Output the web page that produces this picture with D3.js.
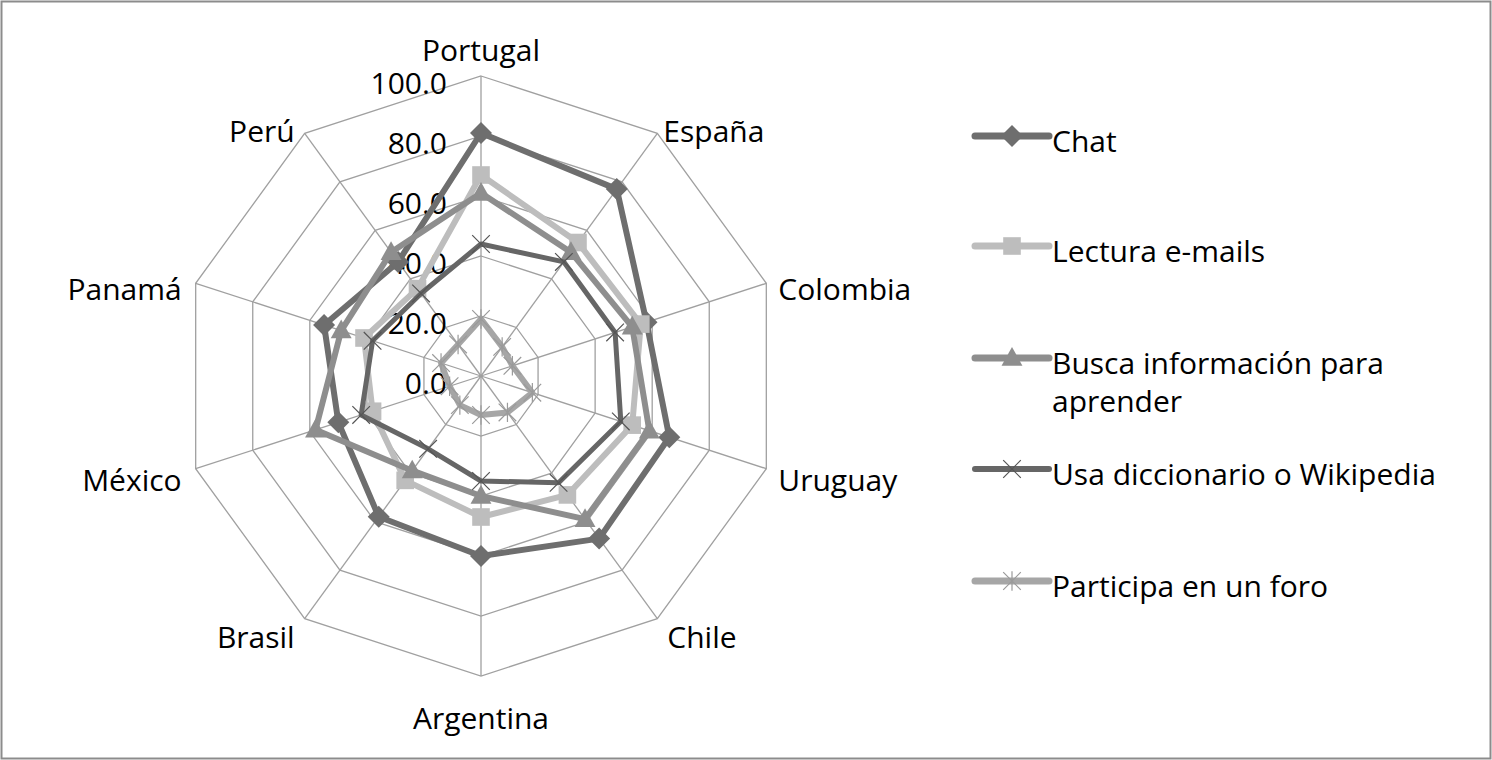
<!DOCTYPE html>
<html><head><meta charset="utf-8">
<script src="https://cdn.jsdelivr.net/npm/d3@7"></script>
<style>
html,body{margin:0;padding:0;background:#fff;}
svg{display:block;}
text{font-family:"Open Sans",Lato,sans-serif;fill:#000;}
</style></head>
<body>
<svg id="chart" width="1492" height="760"></svg>
<script>
const categories = ["Portugal","España","Colombia","Uruguay","Chile","Argentina","Brasil","México","Panamá","Perú"];
const tickValues = [0,20,40,60,80,100];
const tickLabels = ["0.0","20.0","40.0","60.0","80.0","100.0"];
const seriesNames = ["Chat","Lectura e-mails","Busca información para aprender","Usa diccionario o Wikipedia","Participa en un foro"];
const chat    = [81, 77, 58, 66, 67, 60, 58, 50, 55, 47];
const lectura = [67, 55, 56, 53, 49, 47, 43, 38, 41, 36];
const busca   = [61, 51, 53, 59, 59, 40, 39, 58, 49, 51];
const usa     = [44, 47, 47, 49, 44, 35, 30, 42, 38, 34];
const foro    = [19, 12, 11, 18, 15, 13, 12, 11, 14, 13];

const seriesData = [chat, lectura, busca, usa, foro];
const styles = [
  {color:"#6e6e6e", width:6, marker:"diamond"},
  {color:"#bdbdbd", width:6, marker:"square"},
  {color:"#8e8e8e", width:6, marker:"triangle"},
  {color:"#666666", width:5, marker:"x"},
  {color:"#a6a6a6", width:6, marker:"star"}
];
const FS = 30;

const svg = d3.select("#chart");
const W = 1492, H = 760;
svg.append("rect").attr("x",1.5).attr("y",1.5).attr("width",W-3).attr("height",H-3)
  .attr("fill","#fff").attr("stroke","#8c8c8c").attr("stroke-width",2);

const cx = 481, cy = 376, R = 300;
const r = d3.scaleLinear().domain([0,100]).range([0,R]);
const angle = d3.scaleLinear().domain([0, categories.length]).range([0, 2*Math.PI]);
const pt = (i, v) => [cx + Math.sin(angle(i))*r(v), cy - Math.cos(angle(i))*r(v)];

const g = svg.append("g");
tickValues.filter(t=>t>0).forEach(t=>{
  g.append("path")
    .attr("d", d3.line()(categories.map((c,i)=>pt(i,t))) + "Z")
    .attr("fill","none").attr("stroke","#a0a0a0").attr("stroke-width",1.3);
});
categories.forEach((c,i)=>{
  const [x,y] = pt(i,100);
  g.append("line").attr("x1",cx).attr("y1",cy).attr("x2",x).attr("y2",y)
    .attr("stroke","#a0a0a0").attr("stroke-width",1.3);
});
tickValues.forEach((t,k)=>{
  g.append("text").attr("x",447).attr("y",cy - r(t) + 6)
    .attr("text-anchor","end").attr("dominant-baseline","central")
    .style("font-size",FS+"px").text(tickLabels[k]);
});
const labelPos = [
  {dx:0, dy:-27, anchor:"middle"},
  {dx:6, dy:-3, anchor:"start"},
  {dx:12, dy:5, anchor:"start"},
  {dx:12, dy:11, anchor:"start"},
  {dx:10, dy:18, anchor:"start"},
  {dx:0, dy:41, anchor:"middle"},
  {dx:-10, dy:18, anchor:"end"},
  {dx:-14, dy:11, anchor:"end"},
  {dx:-14, dy:5, anchor:"end"},
  {dx:-10, dy:-3, anchor:"end"}
];
categories.forEach((c,i)=>{
  const [x,y] = pt(i,100);
  g.append("text").attr("x",x+labelPos[i].dx).attr("y",y+labelPos[i].dy)
    .attr("text-anchor",labelPos[i].anchor).attr("dominant-baseline","central")
    .style("font-size",FS+"px").text(c);
});

function drawMarker(sel, type, x, y, color, s){
  if(type==="diamond"){
    sel.append("path").attr("d",`M${x},${y-s}L${x+s},${y}L${x},${y+s}L${x-s},${y}Z`).attr("fill",color);
  } else if(type==="square"){
    sel.append("rect").attr("x",x-s*0.8).attr("y",y-s*0.8).attr("width",s*1.6).attr("height",s*1.6).attr("fill",color);
  } else if(type==="triangle"){
    sel.append("path").attr("d",`M${x},${y-s}L${x+s*0.95},${y+s*0.7}L${x-s*0.95},${y+s*0.7}Z`).attr("fill",color);
  } else if(type==="x"){
    const a = s*0.8;
    sel.append("path").attr("d",`M${x-a},${y-a}L${x+a},${y+a}M${x-a},${y+a}L${x+a},${y-a}`)
      .attr("stroke","#555").attr("stroke-width",1.2).attr("fill","none");
  } else if(type==="star"){
    const a = s*0.8;
    sel.append("path").attr("d",`M${x-a},${y-a}L${x+a},${y+a}M${x-a},${y+a}L${x+a},${y-a}M${x},${y-a*1.1}L${x},${y+a*1.1}`)
      .attr("stroke","#9a9a9a").attr("stroke-width",1.2).attr("fill","none");
  }
}

const lineGen = d3.line();
seriesData.forEach((vals, si)=>{
  const st = styles[si];
  const sg = svg.append("g");
  const pts = vals.map((v,i)=>pt(i,v));
  sg.append("path").attr("d", lineGen(pts)+"Z").attr("fill","none")
    .attr("stroke",st.color).attr("stroke-width",st.width).attr("stroke-linejoin","round");
  pts.forEach(p=>drawMarker(sg, st.marker, p[0], p[1], st.color, 11));
});

const legendY = [136, 246, 358, 469, 581];
const lg = svg.append("g");
seriesNames.forEach((name, si)=>{
  const st = styles[si];
  const y = legendY[si];
  lg.append("line").attr("x1",975).attr("x2",1049).attr("y1",y).attr("y2",y)
    .attr("stroke",st.color).attr("stroke-width",st.width+1).attr("stroke-linecap","round");
  drawMarker(lg, st.marker, 1012, y, st.color, 11);
  if(si===2){
    lg.append("text").attr("x",1052).attr("y",y+4).attr("dominant-baseline","central").style("font-size",FS+"px").text("Busca información para");
    lg.append("text").attr("x",1052).attr("y",y+42).attr("dominant-baseline","central").style("font-size",FS+"px").text("aprender");
  } else {
    lg.append("text").attr("x",1052).attr("y",y+4).attr("dominant-baseline","central").style("font-size",FS+"px").text(name);
  }
});
</script>
</body></html>
